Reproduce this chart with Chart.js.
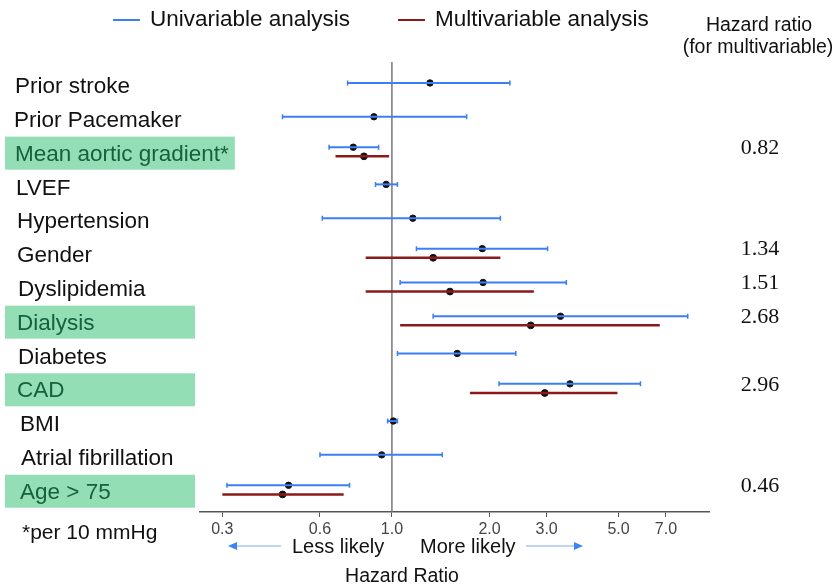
<!DOCTYPE html>
<html>
<head>
<meta charset="utf-8">
<script src="https://cdn.jsdelivr.net/npm/chart.js@4.4.1/dist/chart.umd.min.js"></script>
<style>
html,body{margin:0;padding:0;background:#fff;}
#wrap{width:838px;height:585px;}
</style>
</head>
<body>
<div id="wrap"><canvas id="c" width="838" height="585"></canvas></div>
<script>
// ---- data ----
const categories = ["Prior stroke","Prior Pacemaker","Mean aortic gradient*","LVEF","Hypertension","Gender","Dyslipidemia","Dialysis","Diabetes","CAD","BMI","Atrial fibrillation","Age > 75"];
const uniHR   = [1.31, 0.88, 0.76, 0.96, 1.16, 1.90, 1.91, 3.31, 1.59, 3.54, 1.01, 0.93, 0.48];
const uniLow  = [0.73, 0.46, 0.64, 0.89, 0.61, 1.19, 1.06, 1.34, 1.04, 2.14, 0.97, 0.60, 0.31];
const uniHigh = [2.31, 1.70, 0.91, 1.04, 2.16, 3.02, 3.45, 8.17, 2.41, 5.84, 1.04, 1.43, 0.74];
const multiHR   = [null, null, 0.82, null, null, 1.34, 1.51, 2.68, null, 2.96, null, null, 0.46];
const multiLow  = [null, null, 0.67, null, null, 0.83, 0.83, 1.06, null, 1.74, null, null, 0.30];
const multiHigh = [null, null, 0.98, null, null, 2.16, 2.74, 6.70, null, 4.96, null, null, 0.71];
const hrLabels  = ["", "", "0.82", "", "", "1.34", "1.51", "2.68", "", "2.96", "", "", "0.46"];
const highlighted = [false,false,true,false,false,false,false,true,false,true,false,false,true];
const tickValues = [0.3, 0.6, 1.0, 2.0, 3.0, 5.0, 7.0];

// ---- style ----
const BLUE = '#3b7ff2';
const RED = '#8b1a1a';
const SANS = '"Liberation Sans", Arial, sans-serif';
const SERIF = '"Liberation Serif", "Times New Roman", serif';
const labelX = [15, 14, 15, 16, 17, 17, 18, 17, 18, 17, 20, 21, 20];

function offBlue(i){ return multiHR[i] != null ? -0.19 : -0.09; }
const offRed = 0.08;

const uniPoints = categories.map((c,i)=>({x:uniHR[i], y:i+offBlue(i)}));
const multiPoints = [];
categories.forEach((c,i)=>{ if(multiHR[i]!=null) multiPoints.push({x:multiHR[i], y:i+offRed}); });

function arrow(ctx, x1, x2, y){
  ctx.save();
  ctx.strokeStyle = '#a9c8f0'; ctx.lineWidth = 1.5;
  ctx.beginPath(); ctx.moveTo(x1,y); ctx.lineTo(x2,y); ctx.stroke();
  const d = x2 > x1 ? 1 : -1;
  ctx.fillStyle = '#3d86f2';
  ctx.beginPath(); ctx.moveTo(x2+d*3,y); ctx.lineTo(x2-d*6,y-4); ctx.lineTo(x2-d*6,y+4); ctx.closePath(); ctx.fill();
  ctx.restore();
}

const forest = {
  id:'forest',
  beforeDraw(chart){
    const ctx = chart.ctx, ys = chart.scales.y;
    ctx.save();
    ctx.font = '22.5px ' + SANS;
    ctx.textBaseline = 'middle';
    categories.forEach((lab,i)=>{
      const y = ys.getPixelForValue(i);
      const lx = labelX[i];
      if (highlighted[i]) {
        const w = ctx.measureText(lab).width;
        const right = Math.max(195, lx + w + 6);
        ctx.fillStyle = '#93deb5';
        ctx.fillRect(5, y - 17, right - 5, 33);
        ctx.fillStyle = '#17603a';
      } else {
        ctx.fillStyle = '#111';
      }
      ctx.fillText(lab, lx, y + 1);
    });
    ctx.font = '22px ' + SERIF;
    ctx.fillStyle = '#111';
    ctx.textAlign = 'center';
    hrLabels.forEach((t,i)=>{
      if(!t) return;
      ctx.fillText(t, 760, ys.getPixelForValue(i+offBlue(i)) + 1);
    });
    ctx.font = '19.5px ' + SANS;
    ctx.fillText('Hazard ratio', 759, 26);
    ctx.fillText('(for multivariable)', 758, 48);
    ctx.textAlign = 'left';
    ctx.font = '22.5px ' + SANS;
    ctx.lineWidth = 2;
    ctx.strokeStyle = BLUE;
    ctx.beginPath(); ctx.moveTo(113,20); ctx.lineTo(140,20); ctx.stroke();
    ctx.fillText('Univariable analysis', 150, 20);
    ctx.strokeStyle = RED;
    ctx.beginPath(); ctx.moveTo(398,20); ctx.lineTo(425,20); ctx.stroke();
    ctx.fillText('Multivariable analysis', 435, 20);
    ctx.font = '21px ' + SANS;
    ctx.fillText('*per 10 mmHg', 22, 533);
    ctx.font = '20px ' + SANS;
    ctx.fillText('Less likely', 292, 547);
    ctx.fillText('More likely', 420, 547);
    arrow(ctx, 281, 231, 546);
    arrow(ctx, 526, 580, 546);
    ctx.textAlign = 'center';
    ctx.font = '19.5px ' + SANS;
    ctx.fillText('Hazard Ratio', 402, 577);
    ctx.restore();
  },
  beforeDatasetsDraw(chart){
    const ctx = chart.ctx, xs = chart.scales.x, a = chart.chartArea;
    const x = xs.getPixelForValue(1);
    ctx.save();
    ctx.strokeStyle = '#777'; ctx.lineWidth = 1.5;
    ctx.beginPath(); ctx.moveTo(x, a.top); ctx.lineTo(x, a.bottom); ctx.stroke();
    ctx.restore();
  },
  afterDatasetsDraw(chart){
    const ctx = chart.ctx, xs = chart.scales.x, ys = chart.scales.y;
    ctx.save();
    function ci(lo, hi, yv, color, w, caps){
      const x1 = xs.getPixelForValue(lo), x2 = xs.getPixelForValue(hi), y = ys.getPixelForValue(yv);
      ctx.strokeStyle = color; ctx.lineWidth = w;
      ctx.beginPath(); ctx.moveTo(x1,y); ctx.lineTo(x2,y); ctx.stroke();
      if (caps) {
        ctx.lineWidth = 1.5;
        ctx.beginPath(); ctx.moveTo(x1,y-2.5); ctx.lineTo(x1,y+2.5); ctx.moveTo(x2,y-2.5); ctx.lineTo(x2,y+2.5); ctx.stroke();
      }
    }
    categories.forEach((c,i)=>{
      ci(uniLow[i], uniHigh[i], i+offBlue(i), BLUE, 2, true);
      if (multiHR[i]!=null) ci(multiLow[i], multiHigh[i], i+offRed, RED, 2.5, false);
    });
    ctx.restore();
  }
};

new Chart(document.getElementById('c'), {
  type:'scatter',
  data:{ datasets:[
    {label:'Univariable analysis', data:uniPoints, pointRadius:3.2, pointBackgroundColor:'#111', pointBorderColor:'#111', pointBorderWidth:1},
    {label:'Multivariable analysis', data:multiPoints, pointRadius:3.4, pointBackgroundColor:'#111', pointBorderColor:'#111', pointBorderWidth:1}
  ]},
  options:{
    responsive:false, animation:false,
    layout:{ padding:{ left:200, right:129, top:62, bottom:43 } },
    plugins:{ legend:{display:false}, tooltip:{enabled:false} },
    scales:{
      x:{
        type:'logarithmic', min:0.256, max:9.5,
        afterBuildTicks:(s)=>{ s.ticks = tickValues.map(v=>({value:v})); },
        afterFit:(s)=>{ s.height = 30; },
        ticks:{ callback:(v)=>Number(v).toFixed(1), font:{size:16, family:SANS}, color:'#444', padding:3, autoSkip:false, maxRotation:0 },
        grid:{ drawOnChartArea:false, drawTicks:true, tickLength:5, color:'#555' },
        border:{ color:'#555', width:1.5 }
      },
      y:{ type:'linear', reverse:true, min:-0.71, max:12.6, display:false }
    }
  },
  plugins:[forest]
});
</script>
</body>
</html>
